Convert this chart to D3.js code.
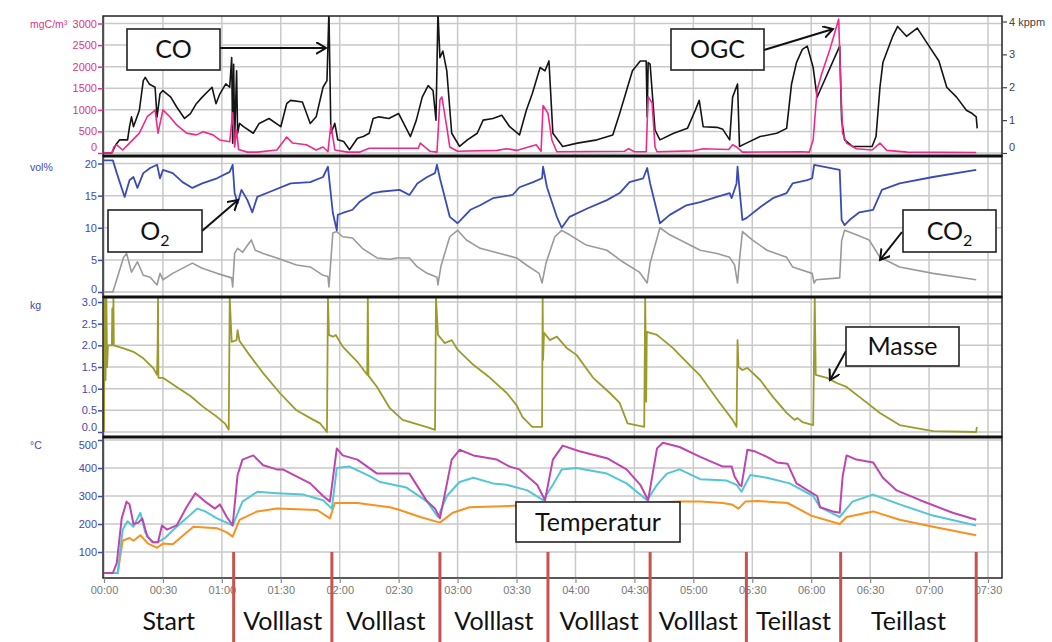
<!DOCTYPE html>
<html>
<head>
<meta charset="utf-8">
<script src="https://cdn.jsdelivr.net/npm/d3@7"></script>
<style>
  html, body { margin: 0; padding: 0; background: #fff; }
  svg { display: block; font-family: "Liberation Sans", Arial, sans-serif; }
</style>
</head>
<body>
<div id="chart"></div>
<script>
// time in minutes since start, values in axis units
const coData = [[0,0],[4,0],[6,0.25],[8,0.4],[12,0.4],[13,0.8],[14,1.1],[15,0.8],[18,1.3],[20,2.2],[21,2.3],[23,2.1],[26,2.0],[27,1.1],[28.5,1.8],[30,1.9],[34,1.7],[37,1.4],[41,1.05],[44,1.2],[47,1.5],[50,1.7],[55,2.0],[57,1.5],[59,1.8],[62,2.1],[64,2.0],[65,2.9],[65.5,0.3],[66,2.7],[66.5,0.4],[67.5,2.5],[68,0.6],[69,0.9],[71,0.8],[76,0.6],[79,0.9],[84,1.05],[90,0.8],[93,1.5],[95,1.6],[101,1.55],[105,0.9],[108,1.1],[111.5,2.0],[113.5,2.2],[114.5,4.3],[115.5,0.6],[117.5,0.9],[119,0.4],[122,0.35],[125,0.1],[129,0.45],[132,0.5],[135,0.6],[137,1.05],[140,1.1],[145,1.05],[150,1.2],[156,0.5],[159,1.0],[162,1.7],[165,2.05],[167.5,1.9],[169,1.0],[170,4.3],[171,2.9],[172.5,3.1],[174.5,2.5],[177,0.6],[181,0.2],[185,0.4],[190,0.6],[193,1.0],[198,1.05],[202.5,1.15],[206.5,0.8],[211.5,0.55],[215,1.3],[218,1.8],[222,2.6],[224.5,2.5],[226.5,2.8],[228.5,0.6],[233.5,0.2],[241,0.3],[251,0.4],[259,0.55],[262.5,1.2],[266,1.9],[269,2.5],[273,2.8],[276,2.8],[276.5,1.1],[277,2.75],[278,2.7],[280.5,0.7],[283,0.4],[290,0.6],[297,0.75],[301,1.3],[303,1.6],[305,0.8],[312,0.78],[315,0.72],[318.5,0.4],[320,1.7],[322.5,2.1],[323.5,0.2],[327,0.3],[334,0.5],[342.5,0.6],[347.5,0.75],[350,2.1],[352.5,2.75],[355.5,3.15],[358,3.25],[361,2.6],[363,1.7],[364.5,1.9],[374.5,3.25],[375.5,1.0],[377,0.4],[381,0.2],[391,0.2],[393,0.5],[395,2.0],[396.5,2.75],[401.5,3.55],[404,3.85],[408.5,3.55],[414,3.8],[420,3.25],[425,2.8],[429,2.0],[434,1.7],[439,1.3],[442,1.2],[444,1.1],[444.5,0.75]];

const ogcData = [[0,0],[4,0],[5,140],[6.5,190],[9.5,70],[13,230],[18,460],[22,840],[25,950],[26,1000],[27.5,460],[30,1000],[33.5,840],[37,650],[42,460],[47,420],[50.5,490],[55.5,420],[59,300],[64,260],[65.5,930],[66.5,140],[67.5,530],[68.5,80],[73,20],[78,20],[88,70],[93,370],[96,230],[103,190],[108,70],[111.5,140],[114,30],[115.5,650],[117.5,70],[124,20],[130,20],[135,110],[160,110],[161,230],[166,40],[169.5,20],[171,1230],[172,1300],[174.5,600],[176,140],[180,40],[200,60],[205,100],[210,60],[220,190],[222.5,40],[223.5,1100],[226,920],[228,300],[230.5,30],[265,40],[267,100],[270,30],[276,30],[277,1300],[279,1160],[280.5,140],[281.5,30],[300,50],[305,100],[318,80],[320,190],[322,140],[325,20],[355,30],[359,20],[361,300],[363,1460],[365.5,1860],[369.5,2400],[374,3100],[375,1630],[376,460],[378,230],[383,100],[391,70],[395,230],[398.5,60],[409,20],[444,10]];

const o2Data = [[0,20.5],[4.5,20.5],[6.5,18.5],[10.5,14.8],[13,17.4],[15,17.9],[17,16.2],[20,18.5],[23.5,19.3],[27,19.8],[28.5,17.7],[30,19.0],[35,18.5],[40,17.1],[45,16.2],[50,16.9],[57.5,17.7],[64,18.7],[65.5,19.8],[66.5,15.4],[68,13.8],[70,15.9],[73,14.3],[75.5,12.4],[78,14.8],[84.5,15.6],[95,16.9],[105,17.1],[111.5,17.9],[114,19.5],[114.5,18.0],[116.5,12.3],[118.5,9.6],[119,12.0],[121.5,12.3],[126.5,12.8],[130,14.0],[137,15.4],[140.5,15.6],[150.5,15.9],[155.5,15.1],[159.5,16.9],[164.5,17.9],[168.5,18.5],[169.5,19.8],[171,17.7],[176,11.7],[180,10.7],[182.5,11.5],[186.5,12.8],[191.5,13.5],[198,14.6],[208,15.1],[211.5,16.3],[218.5,17.1],[223,17.7],[223.5,19.5],[225.5,16.3],[230.5,11.7],[233,10.0],[237,11.7],[246,13.0],[256,14.3],[262.5,15.4],[267.5,17.1],[274.5,17.7],[276.5,19.3],[278,16.9],[283,10.7],[288,12.0],[296.5,13.5],[303.5,14.0],[312,14.8],[318.5,15.4],[319.5,14.6],[322,16.9],[322.5,19.5],[323.5,16.0],[325,11.2],[327,11.5],[334,13.2],[340.5,14.6],[347.5,15.4],[350.5,16.9],[358,17.4],[360.5,17.7],[361.5,19.8],[374.5,19.0],[375.5,11.2],[377,10.4],[379.5,11.2],[384.5,12.4],[391.5,12.8],[396,15.9],[405,16.9],[422,17.9],[444,19.0]];

const co2Data = [[0,0],[4.5,0],[10,5.4],[11.5,6.0],[14,3.1],[17,4.7],[20,2.6],[23.5,2.3],[27,1.1],[28.5,2.9],[30,1.9],[35,2.9],[45,4.5],[50,3.7],[57.5,2.9],[65,2.2],[65.5,0.8],[66.5,6.0],[68,6.8],[70.5,6.2],[75,8.1],[77,6.5],[81,6.0],[88,5.3],[98,4.2],[105,3.9],[111.5,2.6],[114,2.4],[114.5,0.8],[116.5,9.2],[118.5,9.4],[121.5,8.6],[126.5,8.4],[131.5,6.8],[139,5.3],[145.5,5.1],[149,5.3],[155.5,5.3],[159.5,3.9],[164.5,2.9],[169.5,2.3],[170,1.1],[171.5,4.0],[176,8.6],[180,9.6],[184.5,8.1],[191.5,6.8],[201.5,6.0],[210,5.3],[215,4.2],[221.5,2.9],[223,1.4],[225,4.5],[229.5,8.6],[233,9.6],[237,8.9],[245.5,7.3],[256,6.5],[264,4.7],[272.5,3.1],[276.5,1.4],[278,4.5],[283,10.0],[288,8.9],[296.5,7.6],[303.5,6.5],[312,6.0],[318.5,5.4],[321,4.2],[322.5,1.4],[323.5,5.0],[325,9.4],[330,8.1],[337.5,6.5],[347.5,5.4],[350.5,3.9],[360.5,2.9],[361.5,1.4],[362.5,1.9],[374.5,2.2],[375.5,8.0],[377,9.6],[383,8.9],[389.5,8.1],[395,5.4],[405,3.9],[422,2.9],[444,1.9]];

const masseData = [[0,0],[0.3,3.1],[0.8,1.2],[1.2,3.1],[1.6,1.5],[2,2.0],[4,2.0],[4.2,2.85],[4.5,2.0],[4.8,3.1],[5,2.0],[10,1.93],[15,1.85],[20,1.7],[25,1.48],[27,1.32],[27.3,1.94],[27.5,3.1],[27.7,1.25],[30,1.25],[37,1.04],[44,0.83],[50.5,0.58],[57.5,0.35],[61.5,0.2],[63.5,0.05],[64,3.1],[65,2.08],[67.5,2.12],[68,2.35],[69,2.1],[74,1.78],[81,1.36],[89.5,0.9],[98,0.5],[105,0.32],[110,0.2],[113.5,0.0],[114,3.1],[114.5,2.24],[116.5,2.2],[118,2.24],[121.5,1.97],[129,1.62],[134,1.32],[134.3,3.1],[134.6,1.3],[139,1.04],[145.5,0.55],[152,0.28],[161,0.16],[166,0.09],[168.5,0.05],[169,3.1],[170,2.24],[173.5,2.05],[177,2.12],[180,1.9],[188,1.55],[196.5,1.25],[205,0.9],[210,0.62],[213,0.35],[218,0.12],[223,0.12],[223.3,3.1],[223.5,1.66],[224,2.29],[227,2.12],[230.5,2.2],[235.5,1.94],[240.5,1.78],[249,1.25],[257.5,0.9],[262.5,0.67],[266.5,0.2],[275,0.12],[275.5,3.1],[276,0.7],[276.3,2.31],[281.5,2.24],[284,2.15],[289.5,1.94],[298,1.55],[303.5,1.3],[313.5,0.67],[320,0.28],[322,0.12],[322.5,2.12],[323,1.5],[325,1.43],[327.5,1.48],[334,1.2],[340.5,0.81],[347.5,0.44],[351.5,0.28],[353,0.32],[355.5,0.23],[361,0.16],[361.8,3.1],[362.3,1.32],[368,1.25],[373,1.13],[378,1.04],[384.5,0.81],[395,0.44],[405,0.16],[422,0.02],[444,0.0],[444.3,0.12]];

const temp1Data = [[0,25],[4.5,25],[6.5,60],[9,220],[11.5,280],[13,270],[15,200],[17.5,205],[19.5,220],[22,155],[25,135],[27.5,135],[29.5,195],[32,180],[37,195],[42,260],[46.5,310],[51.5,280],[56.5,255],[59,270],[62.5,225],[65.5,195],[68,375],[70.5,430],[76,445],[81,410],[88,395],[91,395],[98,370],[105,345],[111.5,300],[115,280],[118.5,470],[121.5,445],[129,430],[139,380],[155.5,380],[164.5,280],[168.5,255],[171,220],[177,430],[181,465],[188,445],[200,430],[206.5,405],[211.5,395],[220.5,340],[224.5,285],[228.5,430],[233.5,480],[242,460],[256,435],[266,395],[273,340],[277,285],[281.5,470],[284.5,490],[293,475],[303.5,440],[315,405],[319.5,405],[321,370],[323.5,340],[324.5,335],[327.5,465],[331,460],[337.5,440],[342.5,420],[348,415],[352.5,345],[359.5,315],[363,300],[364.5,260],[371,245],[374.5,240],[376,370],[378,445],[383,430],[391.5,420],[396.5,365],[403.5,320],[415.5,285],[432,240],[444,215]];

const temp2Data = [[0,25],[7,25],[9.5,180],[12,210],[15,190],[18.5,240],[21,170],[24.5,135],[27.5,135],[31,150],[37,190],[47.5,255],[51.5,245],[57.5,220],[65.5,195],[70.5,280],[78,315],[88,310],[101.5,305],[111.5,285],[116,255],[118.5,400],[125,405],[135.5,370],[140.5,350],[154,330],[164.5,280],[170,225],[174.5,300],[181,350],[188,365],[198,345],[205,340],[215.5,320],[223.5,285],[228.5,340],[233,395],[240.5,400],[256,380],[266,345],[276.5,285],[281.5,340],[286.5,380],[293,395],[303.5,360],[317,355],[322,340],[324.5,315],[329,375],[337.5,365],[349,345],[361,300],[364.5,260],[374.5,225],[381,280],[391.5,305],[405,270],[422,230],[444,195]];

const temp3Data = [[0,25],[7,25],[9.5,140],[13,150],[15,140],[18.5,160],[22.5,130],[27,115],[30,130],[35,128],[45.5,190],[57.5,185],[62.5,170],[65.5,155],[69,215],[78,245],[88,255],[108.5,250],[115,220],[117.5,275],[129,275],[145.5,260],[150.5,250],[161,225],[171,205],[177.5,240],[186,260],[208,265],[225,268],[240,278],[276,275],[293,280],[303.5,280],[315,275],[319.5,270],[323,255],[326.5,280],[333,282],[348,275],[360,230],[374.5,200],[378,225],[391.5,245],[405,215],[422,190],[444,160]];

// operating phases (end time in minutes)
const phaseNames = ["Start", "Volllast", "Volllast", "Volllast", "Volllast", "Volllast", "Teillast", "Teillast"];
const phaseEnds = [66, 116, 171, 226, 278, 327, 375, 444];

const timeTickMinutes = [0, 30, 60, 90, 120, 150, 180, 210, 240, 270, 300, 330, 360, 390, 420, 450];
const timeTickLabels = ["00:00", "00:30", "01:00", "01:30", "02:00", "02:30", "03:00", "03:30", "04:00", "04:30", "05:00", "05:30", "06:00", "06:30", "07:00", "07:30"];
const ogcTicks = [0, 500, 1000, 1500, 2000, 2500, 3000];
const coTicks = [0, 1, 2, 3, 4];
const volTicks = [0, 5, 10, 15, 20];
const kgTicks = [0, 0.5, 1, 1.5, 2, 2.5, 3];
const tempTicks = [100, 200, 300, 400, 500];

(function() {
  const width = 1052;
  const height = 642;
  const left = 103;
  const right = 1002;
  const pink = "#e0358a";
  const blue = "#4646b4";
  const gridColor = "#c9c9c9";

  const svg = d3.select("#chart")
    .append("svg")
    .attr("width", width)
    .attr("height", height);

  svg.append("rect").attr("width", width).attr("height", height).attr("fill", "#fff");

  const defs = svg.append("defs");
  defs.append("marker")
    .attr("id", "arrow")
    .attr("markerUnits", "userSpaceOnUse")
    .attr("markerWidth", 16).attr("markerHeight", 16)
    .attr("refX", 10).attr("refY", 6)
    .attr("orient", "auto")
    .append("path")
    .attr("d", "M0,0 L10,6 L0,12")
    .attr("fill", "none")
    .attr("stroke", "#111")
    .attr("stroke-width", 2);

  const x = d3.scaleLinear().domain([0, 450]).range([104, 988]);

  const panels = [
    { id: "p1", top: 16, bottom: 156, y: d3.scaleLinear().domain([0, 3000]).range([153, 23.5]),
      ticks: ogcTicks, fmt: d => d, color: pink, unit: "mgC/m³", unitY: 24 },
    { id: "p2", top: 156, bottom: 297, y: d3.scaleLinear().domain([0, 20]).range([292, 163.5]),
      ticks: volTicks, fmt: d => d, color: blue, unit: "vol%", unitY: 167 },
    { id: "p3", top: 297, bottom: 437, y: d3.scaleLinear().domain([0, 3]).range([432, 302]),
      ticks: kgTicks, fmt: d3.format(".1f"), color: blue, unit: "kg", unitY: 305 },
    { id: "p4", top: 437, bottom: 578, y: d3.scaleLinear().domain([0, 500]).range([580, 440]),
      ticks: tempTicks, fmt: d => d, color: blue, unit: "°C", unitY: 445 }
  ];
  const yCO = d3.scaleLinear().domain([0, 4]).range([153, 21.5]);

  // grid + clip paths
  panels.forEach(p => {
    defs.append("clipPath").attr("id", "clip-" + p.id)
      .append("rect")
      .attr("x", left).attr("y", p.top)
      .attr("width", right - left).attr("height", p.bottom - p.top);

    const g = svg.append("g");
    g.selectAll("line.v")
      .data(timeTickMinutes)
      .join("line")
      .attr("x1", d => x(d)).attr("x2", d => x(d))
      .attr("y1", p.top).attr("y2", p.bottom)
      .attr("stroke", gridColor).attr("stroke-width", 1.5);
    g.selectAll("line.h")
      .data(p.ticks)
      .join("line")
      .attr("x1", left).attr("x2", right)
      .attr("y1", d => p.y(d)).attr("y2", d => p.y(d))
      .attr("stroke", gridColor).attr("stroke-width", 1.5);
  });

  function drawLine(panel, data, yScale, color, w) {
    const line = d3.line().x(d => x(d[0])).y(d => yScale(d[1]));
    svg.append("path")
      .datum(data)
      .attr("clip-path", `url(#clip-${panel.id})`)
      .attr("d", line)
      .attr("fill", "none")
      .attr("stroke", color)
      .attr("stroke-width", w)
      .attr("stroke-linejoin", "round");
  }

  drawLine(panels[0], coData, yCO, "#151515", 1.6);
  drawLine(panels[0], ogcData, panels[0].y, "#ee2a8c", 1.6);
  drawLine(panels[1], co2Data, panels[1].y, "#9a9a9a", 1.6);
  drawLine(panels[1], o2Data, panels[1].y, "#3a4cb4", 1.8);
  drawLine(panels[2], masseData, panels[2].y, "#9b9b2c", 1.8);
  drawLine(panels[3], temp3Data, panels[3].y, "#f7911f", 2);
  drawLine(panels[3], temp2Data, panels[3].y, "#52c6d6", 2);
  drawLine(panels[3], temp1Data, panels[3].y, "#bd46ae", 2);

  // panel frames
  panels.forEach(p => {
    svg.append("rect")
      .attr("x", left).attr("y", p.top)
      .attr("width", right - left).attr("height", p.bottom - p.top)
      .attr("fill", "none").attr("stroke", "#222").attr("stroke-width", 1.5);
  });
  [156, 297, 437].forEach(yy => {
    svg.append("line")
      .attr("x1", left).attr("x2", right)
      .attr("y1", yy).attr("y2", yy)
      .attr("stroke", "#111").attr("stroke-width", 3);
  });

  // left axes
  panels.forEach((p, i) => {
    const ax = svg.append("g")
      .attr("transform", `translate(${left},0)`)
      .call(d3.axisLeft(p.y).tickValues(p.ticks).tickFormat(p.fmt).tickSize(5).tickPadding(1));
    ax.select(".domain").remove();
    ax.selectAll("line").attr("stroke", p.color).attr("stroke-width", 1.5);
    ax.selectAll("text")
      .attr("fill", p.color)
      .attr("font-size", 11)
      .attr("font-family", "Liberation Sans, Arial, sans-serif");
    if (i === 0) ax.selectAll("text").filter(d => d === 0).attr("dy", "-0.2em");
    if (i === 1) ax.selectAll("text").filter(d => d === 0).attr("dy", "0.05em");
    if (i === 2) ax.selectAll("text").filter(d => d === 0).attr("dy", "-0.1em");
    if (i === 3) ax.selectAll("text").filter(d => d === 500).attr("dy", "0.75em");
    svg.append("text")
      .attr("x", 30).attr("y", p.unitY)
      .attr("dy", "0.35em")
      .attr("font-size", 10.5)
      .attr("fill", p.color)
      .text(p.unit);
  });

  // right axis (CO)
  const axR = svg.append("g")
    .attr("transform", `translate(${right},0)`)
    .call(d3.axisRight(yCO).tickValues(coTicks).tickFormat(d => d === 4 ? "4 kppm" : d).tickSize(5).tickPadding(2));
  axR.select(".domain").remove();
  axR.selectAll("line").attr("stroke", "#444").attr("stroke-width", 1.2);
  axR.selectAll("text").attr("fill", "#444").attr("font-size", 11)
    .attr("font-family", "Liberation Sans, Arial, sans-serif");
  axR.selectAll("text").filter(d => d === 0).attr("dy", "-0.2em");

  // time axis
  const axB = svg.append("g")
    .attr("transform", "translate(0,578)")
    .call(d3.axisBottom(x).tickValues(timeTickMinutes)
      .tickFormat((d, i) => timeTickLabels[i]).tickSize(5).tickPadding(3));
  axB.select(".domain").remove();
  axB.selectAll("line").attr("stroke", "#888").attr("stroke-width", 1.2);
  axB.selectAll("text").attr("fill", "#777").attr("font-size", 11)
    .attr("font-family", "Liberation Sans, Arial, sans-serif");

  // phase separators and labels
  svg.selectAll("line.phase")
    .data(phaseEnds)
    .join("line")
    .attr("x1", d => x(d)).attr("x2", d => x(d))
    .attr("y1", panels[3].y(100)).attr("y2", height)
    .attr("stroke", "#c8524e").attr("stroke-width", 3);

  const phaseStarts = [0].concat(phaseEnds.slice(0, -1));
  svg.selectAll("text.phase")
    .data(phaseNames)
    .join("text")
    .attr("x", (d, i) => (x(phaseStarts[i]) + x(phaseEnds[i])) / 2)
    .attr("y", 630)
    .attr("text-anchor", "middle")
    .attr("font-family", "Lato, 'Open Sans', sans-serif")
    .attr("font-size", 25)
    .attr("fill", "#111")
    .text(d => d);

  // annotation boxes
  function box(bx, by, bw, bh, label, sub) {
    svg.append("rect")
      .attr("x", bx).attr("y", by).attr("width", bw).attr("height", bh)
      .attr("fill", "#fff").attr("stroke", "#222").attr("stroke-width", 1.6);
    const t = svg.append("text")
      .attr("x", bx + bw / 2).attr("y", by + bh / 2 + 8.5)
      .attr("text-anchor", "middle")
      .attr("font-family", "Lato, 'Open Sans', sans-serif")
      .attr("font-size", 25)
      .attr("fill", "#111");
    t.append("tspan").text(label);
    if (sub) {
      t.append("tspan").attr("font-size", 16).attr("dy", 6).text(sub);
    }
  }
  function arrow(x1, y1, x2, y2) {
    svg.append("line")
      .attr("x1", x1).attr("y1", y1).attr("x2", x2).attr("y2", y2)
      .attr("stroke", "#111").attr("stroke-width", 2)
      .attr("marker-end", "url(#arrow)");
  }

  arrow(220, 48, 326, 48);
  box(127, 29, 93, 41, "CO");
  arrow(764, 50, 833, 29);
  box(671, 29, 93, 41, "OGC");
  arrow(202, 231, 238, 200);
  box(108, 210, 94, 42, "O", "2");
  arrow(902, 232, 880, 260);
  box(903, 210, 93, 42, "CO", "2");
  arrow(846, 351, 830, 380);
  box(846, 327, 113, 39, "Masse");
  box(516, 502, 164, 40, "Temperatur");
})();
</script>
</body>
</html>
